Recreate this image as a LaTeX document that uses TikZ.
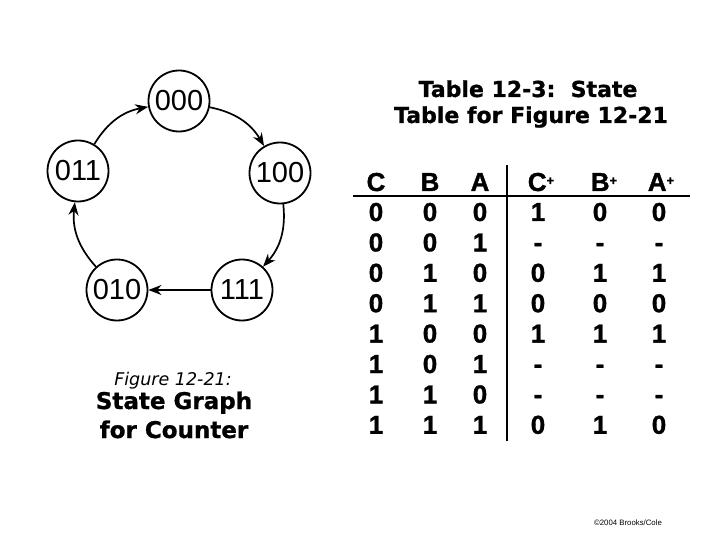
\documentclass[tikz,border=0pt]{standalone}
\usepackage{fontspec}
\setmainfont{Liberation Sans}
\newfontfamily\tablefont[FakeBold=1.2]{Liberation Sans Bold}
\newfontfamily\verdana{DejaVu Sans}
\newfontfamily\verdanabold[FakeBold=1]{DejaVu Sans Bold}
\usetikzlibrary{arrows.meta}

\begin{document}
\begin{tikzpicture}[x=1pt, y=-1pt,
state/.style={circle, draw=black, line width=1.8pt, minimum size=61pt, inner sep=0pt, font=\fontsize{29}{29}\selectfont},
trans/.style={-{Stealth[length=13pt, width=10pt]}, line width=1.7pt},
cell/.style={anchor=base, font=\tablefont\fontsize{26}{26}\selectfont},
title/.style={anchor=base, font=\verdanabold\fontsize{22}{22}\selectfont},
caption/.style={anchor=base, font=\verdana\fontsize{17.5}{17.5}\selectfont\itshape},
]
\useasboundingbox (0,0) rectangle (720,540);
% state graph
\node[state] (s000) at (179,101) {000};
\node[state] (s100) at (280,173) {100};
\node[state] (s111) at (242,290) {111};
\node[state] (s010) at (117,290) {010};
\node[state] (s011) at (78,171) {011};
\draw[trans] (s000) to[bend left=24] (s100);
\draw[trans] (s100) to[bend left=24] (s111);
\draw[trans] (s111) -- (s010);
\draw[trans] (s010) to[bend left=24] (s011);
\draw[trans] (s011) to[bend left=24] (s000);
% captions
\node[caption] (fig) at (173,385) {Figure 12-21:};
\node[title, font=\verdanabold\fontsize{23}{23}\selectfont] (gr1) at (174,409) {State Graph};
\node[title, font=\verdanabold\fontsize{23}{23}\selectfont] (gr2) at (174,438) {for Counter};
\node[title] (tb1) at (528,97) {Table 12-3:\ \ State};
\node[title] (tb2) at (531,123) {Table for Figure 12-21};
% state table
\node[cell] (hC) at (376,191) {C};
\node[cell] (hB) at (430,191) {B};
\node[cell] (hA) at (480,191) {A};
\node[cell] (hCp) at (541,191) {C\raisebox{6pt}{\fontsize{13}{13}\selectfont+}};
\node[cell] (hBp) at (604,191) {B\raisebox{6pt}{\fontsize{13}{13}\selectfont+}};
\node[cell] (hAp) at (661,191) {A\raisebox{6pt}{\fontsize{13}{13}\selectfont+}};
\foreach \c/\b/\a/\cp/\bp/\ap [count=\i from 0] in
  {0/0/0/1/0/0, 0/0/1/-/-/-, 0/1/0/0/1/1, 0/1/1/0/0/0,
   1/0/0/1/1/1, 1/0/1/-/-/-, 1/1/0/-/-/-, 1/1/1/0/1/0}{
  \node[cell] (c\i) at (376,221+30.4*\i) {\c};
  \node[cell] (b\i) at (430,221+30.4*\i) {\b};
  \node[cell] (a\i) at (480,221+30.4*\i) {\a};
  \node[cell] (cp\i) at (538,221+30.4*\i) {\cp};
  \node[cell] (bp\i) at (600,221+30.4*\i) {\bp};
  \node[cell] (ap\i) at (659,221+30.4*\i) {\ap};
}
\coordinate (hl) at (353,196);
\coordinate (hr) at (690,196);
\coordinate (vt) at (507,165);
\coordinate (vb) at (507,441);
\draw[line width=1.4pt] (hl) -- (hr);
\draw[line width=1.4pt] (vt) -- (vb);
\node[anchor=base, font=\fontsize{7.8}{7.8}\selectfont] (copy) at (628,525) {\textcopyright2004 Brooks/Cole};
\end{tikzpicture}
\end{document}
